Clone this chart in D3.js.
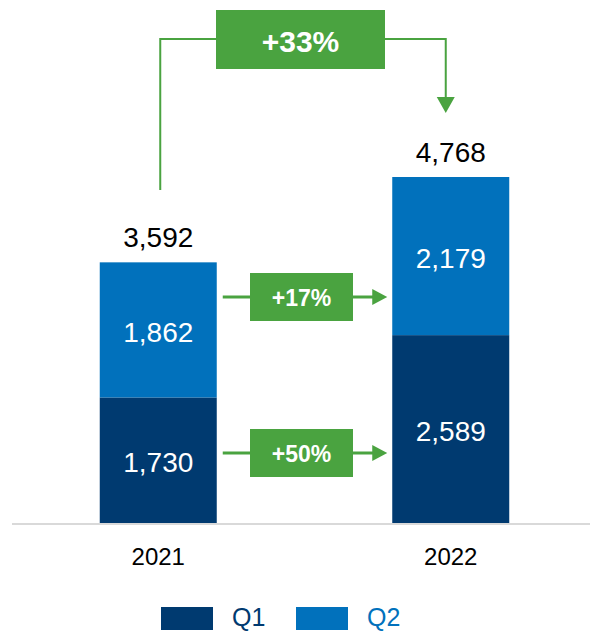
<!DOCTYPE html>
<html lang="en">
<head>
  <meta charset="UTF-8">
  <script src="https://d3js.org/d3.v7.min.js"></script>
  <style>
    body {
      margin: 0;
      padding: 0;
      background: #fff;
      font-family: "Liberation Sans", Arial, sans-serif;
    }
  </style>
</head>
<body>
  <div id="chart"></div>
  <script>
    const years = ["2021", "2022"];
    const q1 = [1730, 2589];
    const q2 = [1862, 2179];
    const totals = [3592, 4768];
    const seriesNames = ["Q1", "Q2"];
    const growthQ1 = "+50%";
    const growthQ2 = "+17%";
    const growthTotal = "+33%";

    const width = 590, height = 632;
    const green = "#4aa340";
    const colors = { Q1: "#003a70", Q2: "#0171bc" };

    const svg = d3.select("#chart")
      .append("svg")
      .attr("width", width)
      .attr("height", height);

    const x = d3.scaleBand()
      .domain(years)
      .range([12, 597])
      .paddingInner(0.6)
      .paddingOuter(0.3);

    const y = d3.scaleLinear()
      .domain([0, d3.max(totals)])
      .range([523, 177]);

    const stackData = years.map((yr, i) => ({ year: yr, Q1: q1[i], Q2: q2[i] }));
    const stacked = d3.stack().keys(seriesNames)(stackData);

    // baseline
    svg.append("line")
      .attr("x1", 12).attr("x2", width)
      .attr("y1", y(0) + 1).attr("y2", y(0) + 1)
      .attr("stroke", "#d9d9d9")
      .attr("stroke-width", 2);

    const layers = svg.append("g")
      .selectAll("g")
      .data(stacked)
      .enter()
      .append("g")
      .attr("fill", d => colors[d.key]);

    layers.selectAll("rect")
      .data(d => d)
      .enter()
      .append("rect")
      .attr("x", d => x(d.data.year))
      .attr("y", d => y(d[1]))
      .attr("width", x.bandwidth())
      .attr("height", d => y(d[0]) - y(d[1]));

    layers.selectAll("text")
      .data(d => d)
      .enter()
      .append("text")
      .attr("x", d => x(d.data.year) + x.bandwidth() / 2)
      .attr("y", d => (y(d[0]) + y(d[1])) / 2 + 2)
      .attr("dy", "0.35em")
      .attr("text-anchor", "middle")
      .attr("fill", "#fff")
      .attr("font-size", 28)
      .text(d => d3.format(",")(d[1] - d[0]));

    // totals
    svg.append("g")
      .selectAll("text")
      .data(years)
      .enter()
      .append("text")
      .attr("x", d => x(d) + x.bandwidth() / 2)
      .attr("y", (d, i) => y(totals[i]) - 25)
      .attr("dy", "0.35em")
      .attr("text-anchor", "middle")
      .attr("fill", "#000")
      .attr("font-size", 28)
      .text((d, i) => d3.format(",")(totals[i]));

    // year labels
    svg.append("g")
      .selectAll("text")
      .data(years)
      .enter()
      .append("text")
      .attr("x", d => x(d) + x.bandwidth() / 2)
      .attr("y", 557)
      .attr("dy", "0.35em")
      .attr("text-anchor", "middle")
      .attr("fill", "#000")
      .attr("font-size", 24)
      .text(d => d);

    // small growth arrows between bars
    const leftEnd = x(years[0]) + x.bandwidth();
    const rightStart = x(years[1]);
    function smallArrow(cy, label) {
      const g = svg.append("g");
      g.append("line")
        .attr("x1", leftEnd + 6).attr("x2", rightStart - 16)
        .attr("y1", cy).attr("y2", cy)
        .attr("stroke", green).attr("stroke-width", 3);
      g.append("path")
        .attr("d", `M${rightStart - 5},${cy} L${rightStart - 20},${cy - 8} L${rightStart - 20},${cy + 8} Z`)
        .attr("fill", green);
      g.append("rect")
        .attr("x", 250).attr("y", cy - 24)
        .attr("width", 103).attr("height", 48)
        .attr("fill", green);
      g.append("text")
        .attr("x", 301.5).attr("y", cy + 1)
        .attr("dy", "0.35em")
        .attr("text-anchor", "middle")
        .attr("fill", "#fff")
        .attr("font-weight", "bold")
        .attr("font-size", 23)
        .text(label);
    }
    smallArrow(297, growthQ2);
    smallArrow(453, growthQ1);

    // total growth bracket
    const lx = x(years[0]) + x.bandwidth() / 2 + 2;
    const rx = x(years[1]) + x.bandwidth() / 2 - 5;
    const topY = 39;
    svg.append("path")
      .attr("d", `M${lx},190 L${lx},${topY} L${rx},${topY} L${rx},${y(totals[1]) - 70}`)
      .attr("fill", "none")
      .attr("stroke", green)
      .attr("stroke-width", 2);
    svg.append("path")
      .attr("d", `M${rx},113 L${rx - 9},97 L${rx + 9},97 Z`)
      .attr("fill", green);
    svg.append("rect")
      .attr("x", 216).attr("y", 10)
      .attr("width", 169).attr("height", 59)
      .attr("fill", green);
    svg.append("text")
      .attr("x", 300.5).attr("y", 41)
      .attr("dy", "0.35em")
      .attr("text-anchor", "middle")
      .attr("fill", "#fff")
      .attr("font-weight", "bold")
      .attr("font-size", 30)
      .text(growthTotal);

    // legend
    const legendX = [161, 296];
    const legend = svg.append("g")
      .selectAll("g")
      .data(seriesNames)
      .enter()
      .append("g")
      .attr("transform", (d, i) => `translate(${legendX[i]},607)`);
    legend.append("rect")
      .attr("width", 52).attr("height", 23)
      .attr("fill", d => colors[d]);
    legend.append("text")
      .attr("x", 71).attr("y", 10)
      .attr("dy", "0.35em")
      .attr("fill", d => colors[d])
      .attr("font-size", 25)
      .text(d => d);
  </script>
</body>
</html>
